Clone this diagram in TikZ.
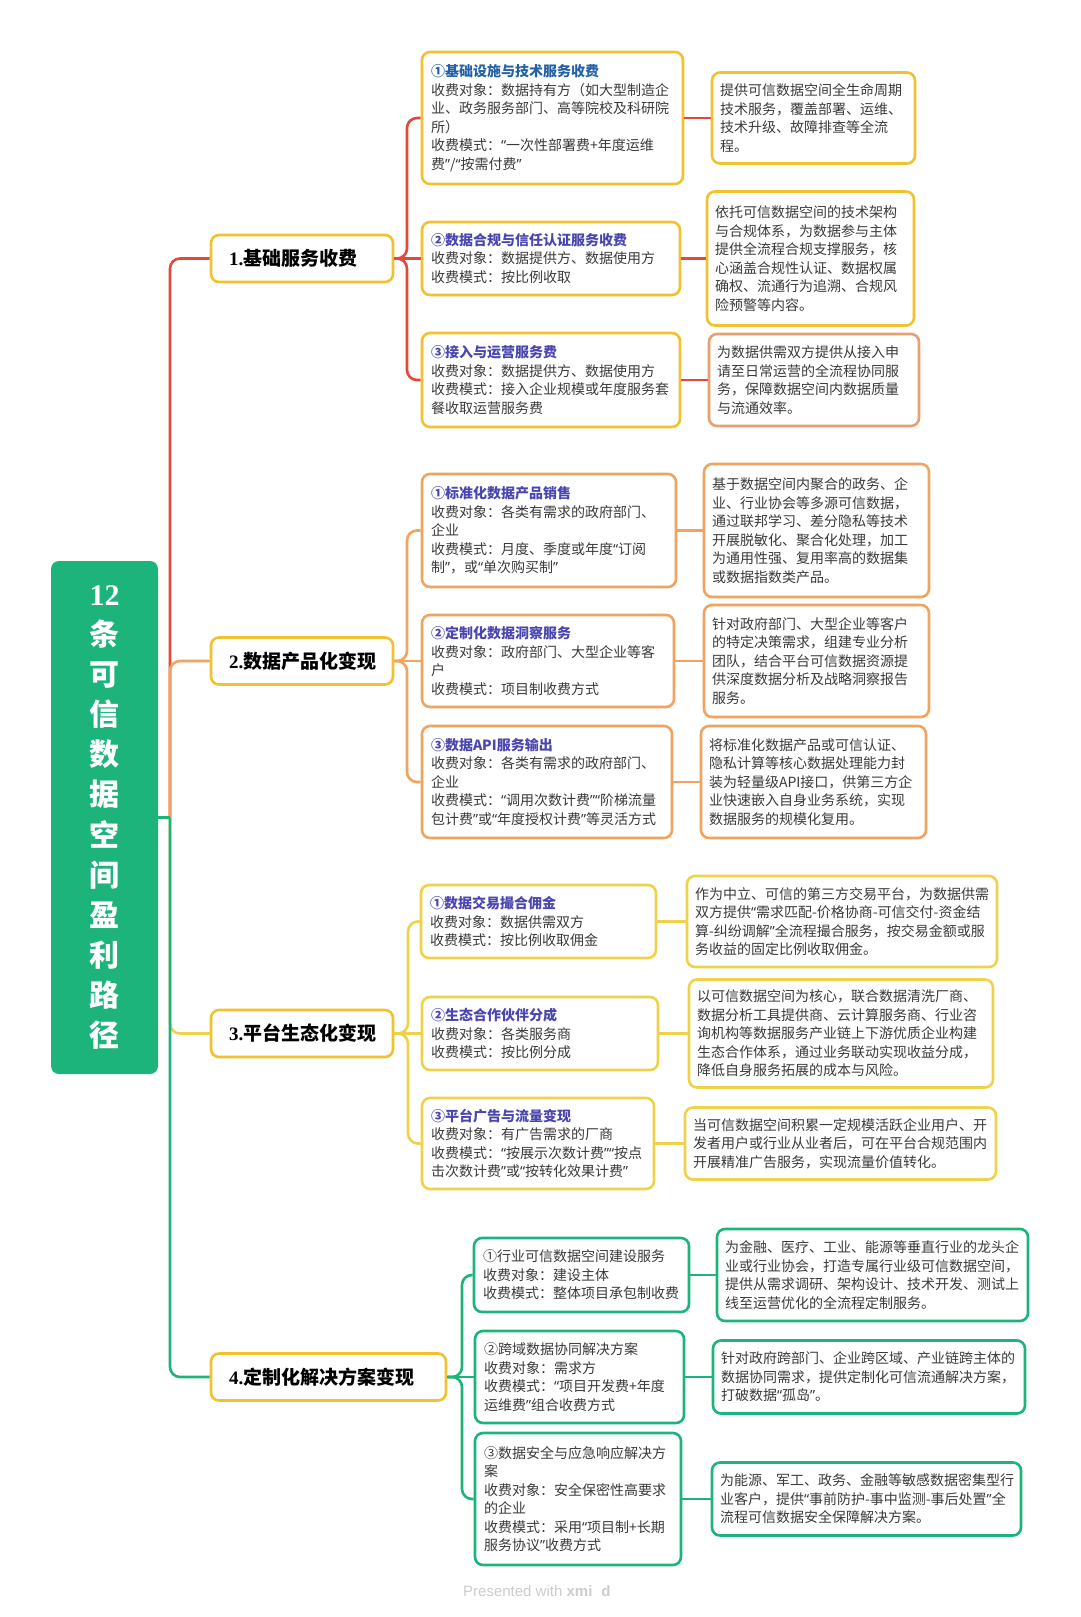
\documentclass[tikz,border=0pt]{standalone}
\usepackage{fontspec}
\setmainfont{Noto Sans CJK SC}
\newfontfamily\serifnum{Liberation Serif}
\newfontfamily\wmfont{Liberation Sans}
\newfontfamily\qfont{Noto Sans}
\definecolor{cRed}{HTML}{E2493B}
\definecolor{cOrg}{HTML}{F0A460}
\definecolor{cTan}{HTML}{E8A070}
\definecolor{cGold}{HTML}{F2C12E}
\definecolor{cYel}{HTML}{EDD24A}
\definecolor{cGrn}{HTML}{1CB47A}
\definecolor{cTitle}{HTML}{4A46B0}
\definecolor{cTitleA}{HTML}{2360A6}
\definecolor{txt}{HTML}{3A3A3A}
\definecolor{cWm}{HTML}{CCCCCC}
\newcommand\ttl[1]{{\bfseries\color{cTitle}#1}}
\newcommand\ttla[1]{{\bfseries\color{cTitleA}#1}}
\exhyphenpenalty=10000
\hyphenpenalty=10000
\catcode`\“=\active
\catcode`\”=\active
\def“{{\qfont\symbol{"201C}}}
\def”{{\qfont\symbol{"201D}}}
\begin{document}
\begin{tikzpicture}[x=1pt,y=-1pt,
  conn/.style={line width=2.6pt, rounded corners=10pt},
  l2/.style={draw, fill=white, line width=2.6pt, rounded corners=8pt, inner xsep=9pt, inner ysep=0pt, align=left, text=txt, font=\fontsize{14}{18.5}\selectfont},
  l3/.style={l2, inner xsep=8pt},
  br/.style={draw=cGold, fill=white, line width=2.6pt, rounded corners=8pt, inner xsep=18pt, inner ysep=0pt, minimum height=47pt, align=left, text=black, font=\fontsize{19}{23}\selectfont\bfseries},
  rootbox/.style={fill=cGrn, draw=none, rounded corners=8pt, minimum width=107pt, minimum height=513pt, inner sep=0pt, align=center, text=white, font=\fontsize{30}{40.1}\selectfont\bfseries}
]
\fill[white] (0,0) rectangle (1080,1617);
\useasboundingbox (0,0) rectangle (1080,1617);

% ---------- nodes ----------
\node[rootbox] (root) at (104.5,817.5) {{\serifnum 12}\\条\\可\\信\\数\\据\\空\\间\\盈\\利\\路\\径};

\node[br, text width=146pt] (b1) at (302,258.5) {{\serifnum 1.}基础服务收费};
\node[br, text width=146pt] (b2) at (302,661) {{\serifnum 2.}数据产品化变现};
\node[br, text width=146pt] (b3) at (302,1033.5) {{\serifnum 3.}平台生态化变现};
\node[br, text width=199pt] (b4) at (328.5,1377) {{\serifnum 4.}定制化解决方案变现};

% coordinates for trunks
\coordinate (tx) at (170,0);
\coordinate (tj) at (root.east -| tx);
\coordinate (x1) at (407,0);
\coordinate (x2) at (407,0);
\coordinate (x3) at (408,0);
\coordinate (x4) at (462,0);

% ---------- connectors root -> branches ----------
\draw[conn, cYel] (tj) |- (b3.west);
\draw[conn, cGrn] (tj) |- (b4.west);
\draw[conn, cRed] (tj) |- (b1.west);
\draw[conn, cOrg] (tj) |- (b2.west);
\draw[conn, cGrn] (root.east) -- (tj);

% level 2 nodes
\node[l2, draw=cGold, minimum height=132pt, text width=243pt] (n1a) at (552.5,118) {\ttla{①基础设施与技术服务收费}\\收费对象：数据持有方（如大型制造企\\业、政务服务部门、高等院校及科研院\\所）\\收费模式：“一次性部署费+年度运维\\费”/“按需付费”};
\node[l2, draw=cGold, minimum height=73pt, text width=240pt] (n1b) at (551,258.5) {\ttl{②数据合规与信任认证服务收费}\\收费对象：数据提供方、数据使用方\\收费模式：按比例收取};
\node[l2, draw=cGold, minimum height=94pt, text width=240pt] (n1c) at (551,380) {\ttl{③接入与运营服务费}\\收费对象：数据提供方、数据使用方\\收费模式：接入企业规模或年度服务套\\餐收取运营服务费};

\node[l2, draw=cOrg, minimum height=113pt, text width=236pt] (n2a) at (549,530.5) {\ttl{①标准化数据产品销售}\\收费对象：各类有需求的政府部门、\\企业\\收费模式：月度、季度或年度“订阅\\制”，或“单次购买制”};
\node[l2, draw=cOrg, minimum height=92pt, text width=234pt] (n2b) at (548,661) {\ttl{②定制化数据洞察服务}\\收费对象：政府部门、大型企业等客\\户\\收费模式：项目制收费方式};
\node[l2, draw=cOrg, minimum height=112pt, text width=232pt] (n2c) at (547,782) {\ttl{③数据API服务输出}\\收费对象：各类有需求的政府部门、\\企业\\收费模式：“调用次数计费”“阶梯流量\\包计费”或“年度授权计费”等灵活方式};

\node[l2, draw=cYel, minimum height=73pt, text width=217pt] (n3a) at (538.5,921.5) {\ttl{①数据交易撮合佣金}\\收费对象：数据供需双方\\收费模式：按比例收取佣金};
\node[l2, draw=cYel, minimum height=73pt, text width=218pt] (n3b) at (540,1033.5) {\ttl{②生态合作伙伴分成}\\收费对象：各类服务商\\收费模式：按比例分成};
\node[l2, draw=cYel, minimum height=91pt, text width=214pt] (n3c) at (538,1143.5) {\ttl{③平台广告与流量变现}\\收费对象：有广告需求的厂商\\收费模式：“按展示次数计费”“按点\\击次数计费”或“按转化效果计费”};

\node[l2, draw=cGrn, minimum height=74pt, text width=197pt] (n4a) at (581.5,1275) {①行业可信数据空间建设服务\\收费对象：建设主体\\收费模式：整体项目承包制收费};
\node[l2, draw=cGrn, minimum height=92pt, text width=191pt] (n4b) at (579.5,1377) {②跨域数据协同解决方案\\收费对象：需求方\\收费模式：“项目开发费+年度\\运维费”组合收费方式};
\node[l2, draw=cGrn, minimum height=132pt, text width=188pt] (n4c) at (578,1499) {③数据安全与应急响应解决方\\案\\收费对象：安全保密性高要求\\的企业\\收费模式：采用“项目制+长期\\服务协议”收费方式};

% level 3 nodes
\node[l3, draw=cGold, minimum height=91pt, text width=187pt] (r1a) at (813.5,118) {提供可信数据空间全生命周期\\技术服务，覆盖部署、运维、\\技术升级、故障排查等全流\\程。};
\node[l3, draw=cGold, minimum height=134pt, text width=191pt] (r1b) at (810.5,258.5) {依托可信数据空间的技术架构\\与合规体系，为数据参与主体\\提供全流程合规支撑服务，核\\心涵盖合规性认证、数据权属\\确权、流通行为追溯、合规风\\险预警等内容。};
\node[l3, draw=cTan, minimum height=92pt, text width=194pt] (r1c) at (814,380) {为数据供需双方提供从接入申\\请至日常运营的全流程协同服\\务，保障数据空间内数据质量\\与流通效率。};

\node[l3, draw=cOrg, minimum height=133pt, text width=209pt] (r2a) at (816.5,530.5) {基于数据空间内聚合的政务、企\\业、行业协会等多源可信数据，\\通过联邦学习、差分隐私等技术\\开展脱敏化、聚合化处理，加工\\为通用性强、复用率高的数据集\\或数据指数类产品。};
\node[l3, draw=cOrg, minimum height=112pt, text width=209pt] (r2b) at (816.5,661) {针对政府部门、大型企业等客户\\的特定决策需求，组建专业分析\\团队，结合平台可信数据资源提\\供深度数据分析及战略洞察报告\\服务。};
\node[l3, draw=cOrg, minimum height=112pt, text width=209pt] (r2c) at (813.5,782) {将标准化数据产品或可信认证、\\隐私计算等核心数据处理能力封\\装为轻量级API接口，供第三方企\\业快速嵌入自身业务系统，实现\\数据服务的规模化复用。};

\node[l3, draw=cYel, minimum height=91pt, text width=294pt] (r3a) at (842,921.5) {作为中立、可信的第三方交易平台，为数据供需\\双方提供“需求匹配-价格协商-可信交付-资金结\\算-纠纷调解”全流程撮合服务，按交易金额或服\\务收益的固定比例收取佣金。};
\node[l3, draw=cYel, minimum height=108pt, text width=288pt] (r3b) at (841,1033.5) {以可信数据空间为核心，联合数据清洗厂商、\\数据分析工具提供商、云计算服务商、行业咨\\询机构等数据服务产业链上下游优质企业构建\\生态合作体系，通过业务联动实现收益分成，\\降低自身服务拓展的成本与风险。};
\node[l3, draw=cYel, minimum height=72pt, text width=295pt] (r3c) at (840.5,1143.5) {当可信数据空间积累一定规模活跃企业用户、开\\发者用户或行业从业者后，可在平台合规范围内\\开展精准广告服务，实现流量价值转化。};

\node[l3, draw=cGrn, minimum height=92pt, text width=295pt] (r4a) at (872.5,1275) {为金融、医疗、工业、能源等垂直行业的龙头企\\业或行业协会，打造专属行业级可信数据空间，\\提供从需求调研、架构设计、技术开发、测试上\\线至运营优化的全流程定制服务。};
\node[l3, draw=cGrn, minimum height=73pt, text width=296pt] (r4b) at (869,1377) {针对政府跨部门、企业跨区域、产业链跨主体的\\数据协同需求，提供定制化可信流通解决方案，\\打破数据“孤岛”。};
\node[l3, draw=cGrn, minimum height=73pt, text width=293pt] (r4c) at (866.5,1499) {为能源、军工、政务、金融等敏感数据密集型行\\业客户，提供“事前防护-事中监测-事后处置”全\\流程可信数据安全保障解决方案。};

% connectors branch -> level 2
\draw[conn, cRed] (b1.east) -- (b1.east -| x1) |- (n1a.west);
\draw[conn, cRed] (b1.east) -- (n1b.west);
\draw[conn, cRed] (b1.east) -- (b1.east -| x1) |- (n1c.west);
\draw[conn, cOrg] (b2.east) -- (b2.east -| x2) |- (n2a.west);
\draw[conn, cOrg] (b2.east) -- (n2b.west);
\draw[conn, cOrg] (b2.east) -- (b2.east -| x2) |- (n2c.west);
\draw[conn, cYel] (b3.east) -- (b3.east -| x3) |- (n3a.west);
\draw[conn, cYel] (b3.east) -- (n3b.west);
\draw[conn, cYel] (b3.east) -- (b3.east -| x3) |- (n3c.west);
\draw[conn, cGrn] (b4.east) -- (b4.east -| x4) |- (n4a.west);
\draw[conn, cGrn] (b4.east) -- (n4b.west);
\draw[conn, cGrn] (b4.east) -- (b4.east -| x4) |- (n4c.west);

% level 2 -> level 3
\draw[conn, cRed] (n1a.east) -- (r1a.west);
\draw[conn, cRed] (n1b.east) -- (r1b.west);
\draw[conn, cRed] (n1c.east) -- (r1c.west);
\draw[conn, cOrg] (n2a.east) -- (r2a.west);
\draw[conn, cOrg] (n2b.east) -- (r2b.west);
\draw[conn, cOrg] (n2c.east) -- (r2c.west);
\draw[conn, cYel] (n3a.east) -- (r3a.west);
\draw[conn, cYel] (n3b.east) -- (r3b.west);
\draw[conn, cYel] (n3c.east) -- (r3c.west);
\draw[conn, cGrn] (n4a.east) -- (r4a.west);
\draw[conn, cGrn] (n4b.east) -- (r4b.west);
\draw[conn, cGrn] (n4c.east) -- (r4c.west);

\node[anchor=west, text=cWm, font=\wmfont\fontsize{15}{17}\selectfont, inner sep=0pt] (wm) at (463,1591) {Presented with \textbf{xmi\hspace{9pt}d}};
\end{tikzpicture}
\end{document}
